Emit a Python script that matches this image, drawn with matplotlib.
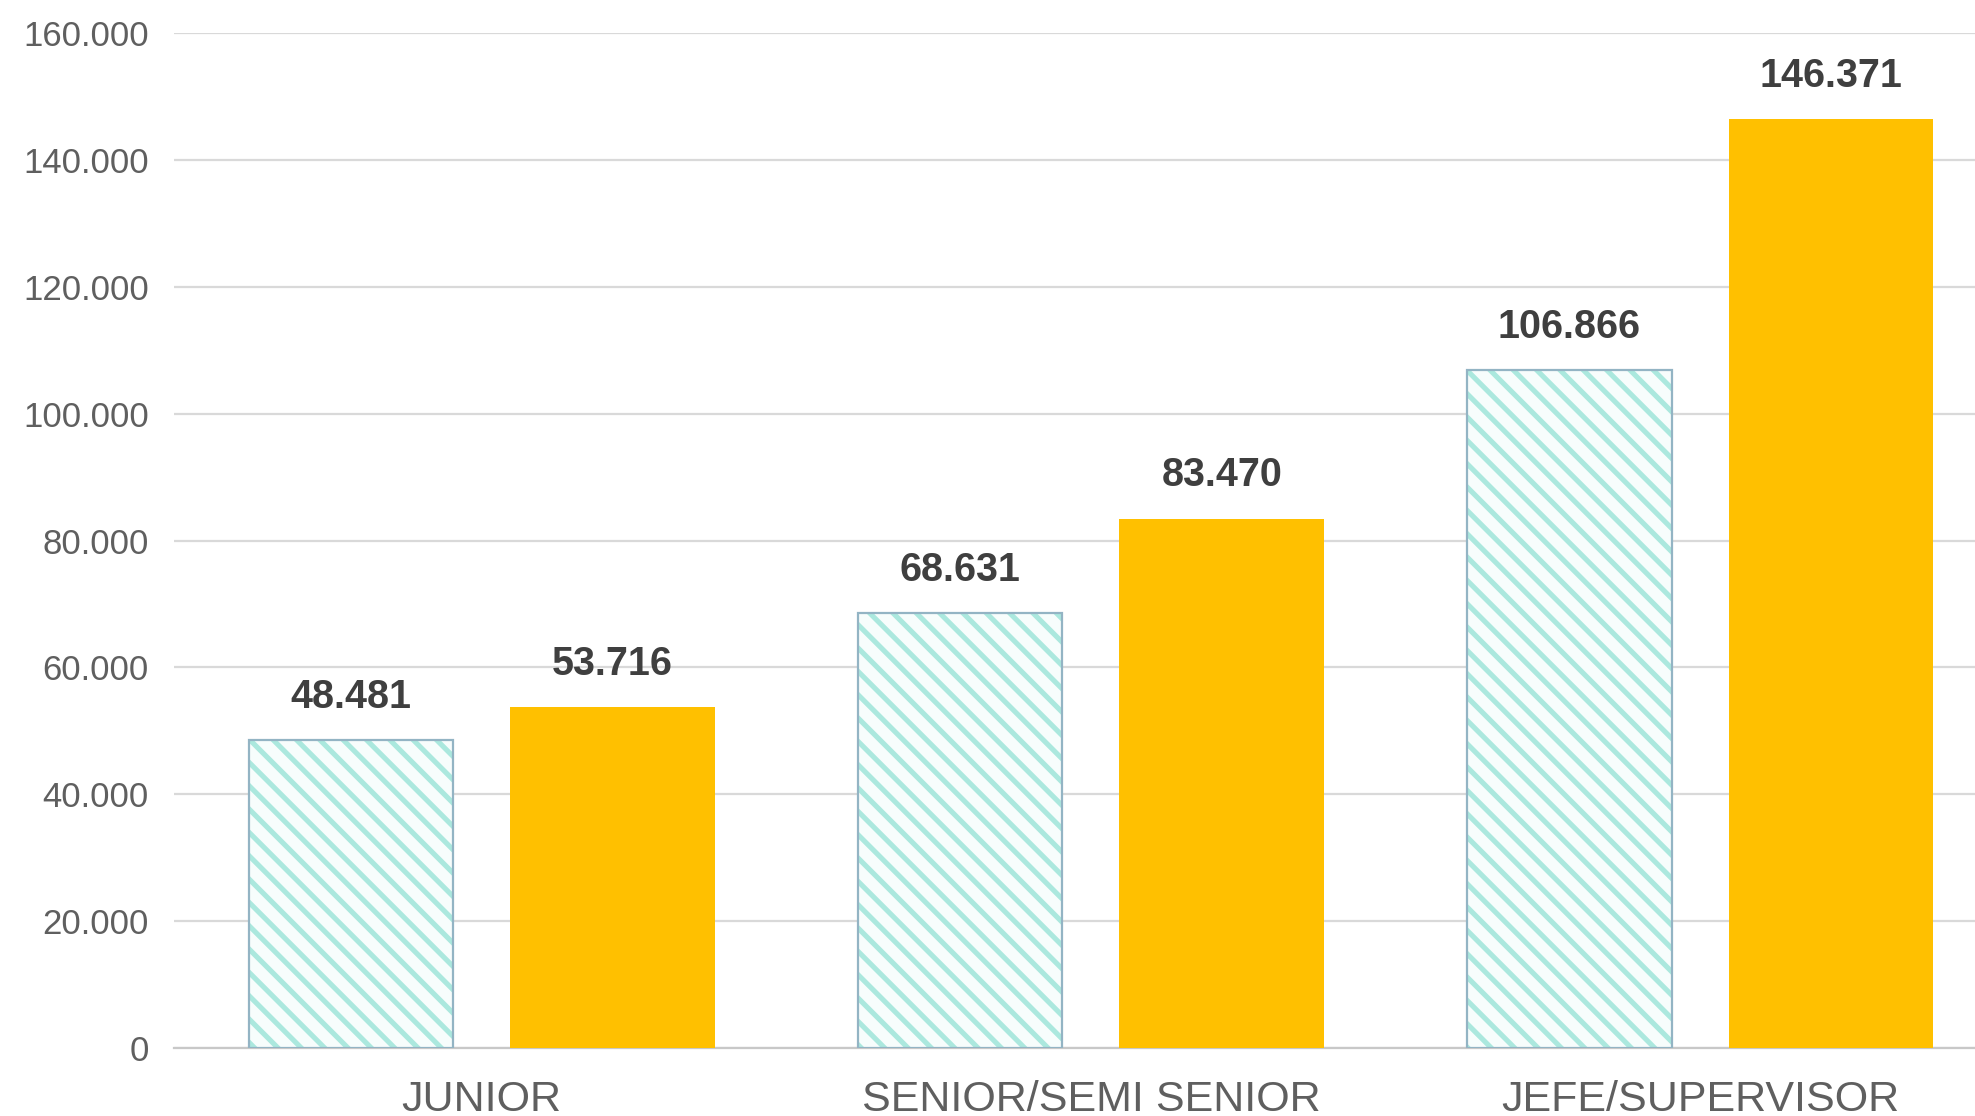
import matplotlib
matplotlib.use("Agg")
import matplotlib.pyplot as plt
import numpy as np

# data
categories = ["JUNIOR", "SENIOR/SEMI SENIOR", "JEFE/SUPERVISOR"]
serie_a = [48481, 68631, 106866]     # hatched bars
serie_b = [53716, 83470, 146371]     # solid gold bars
yticks = [0, 20000, 40000, 60000, 80000, 100000, 120000, 140000, 160000]

MINT = "#abe8de"; EDGE = "#93b4c4"; GOLD = "#FFC000"
GRID = "#d9d9d9"; TICK = "#5f5f5f"; VAL = "#3f3f3f"
FONT = "Liberation Sans"

# dpi picked so the "\\" hatch gets the stripe spacing of the reference
DPI = 140
K = 100.0 / DPI          # sizes below are tuned as if at 100 dpi

plt.rcParams["hatch.linewidth"] = 3.7 * K


def fmt(v):
    return f"{v:,.0f}".replace(",", ".")


fig = plt.figure(figsize=(1975 / DPI, 1116 / DPI), dpi=DPI)
ax = fig.add_axes([0.0881, 0.0609, 0.9119, 0.9095])

x = np.arange(len(categories))
off = 0.2147
w = 0.336

# hatched bars: hatch drawn in mint, then outline on top in blue-gray
ax.bar(x - off, serie_a, w, color="#f7fdfc", edgecolor=MINT, hatch="\\\\", linewidth=0, zorder=3)
ax.bar(x - off, serie_a, w, fill=False, edgecolor=EDGE, linewidth=1.6 * K, zorder=4)
ax.bar(x + off, serie_b, w, color=GOLD, linewidth=0, zorder=3)

for xs, vals in ((x - off, serie_a), (x + off, serie_b)):
    for xi, v in zip(xs, vals):
        ax.annotate(fmt(v), (xi, v), xytext=(0, 31 * K), textcoords="offset points",
                    ha="center", va="center", fontsize=28.5 * K, fontweight="bold",
                    color=VAL, family=FONT, zorder=5)

ax.set_ylim(0, 160000)
ax.set_xlim(-0.505, 2.451)
ax.set_yticks(yticks)
ax.set_yticklabels([fmt(t) for t in yticks], fontsize=25 * K, color=TICK, family=FONT)
ax.set_xticks(x)
ax.set_xticklabels(categories, fontsize=31 * K, color=TICK, family=FONT)
ax.tick_params(axis="both", length=0)
ax.tick_params(axis="y", pad=18 * K)
ax.tick_params(axis="x", pad=23 * K)

ax.grid(axis="y", color=GRID, linewidth=1.6 * K, zorder=0)
ax.set_axisbelow(True)
for s in ("left", "right", "top"):
    ax.spines[s].set_visible(False)
ax.spines["bottom"].set_color("#c8c8c8")
ax.spines["bottom"].set_linewidth(1.6 * K)

fig.savefig("out.png", facecolor="white")
